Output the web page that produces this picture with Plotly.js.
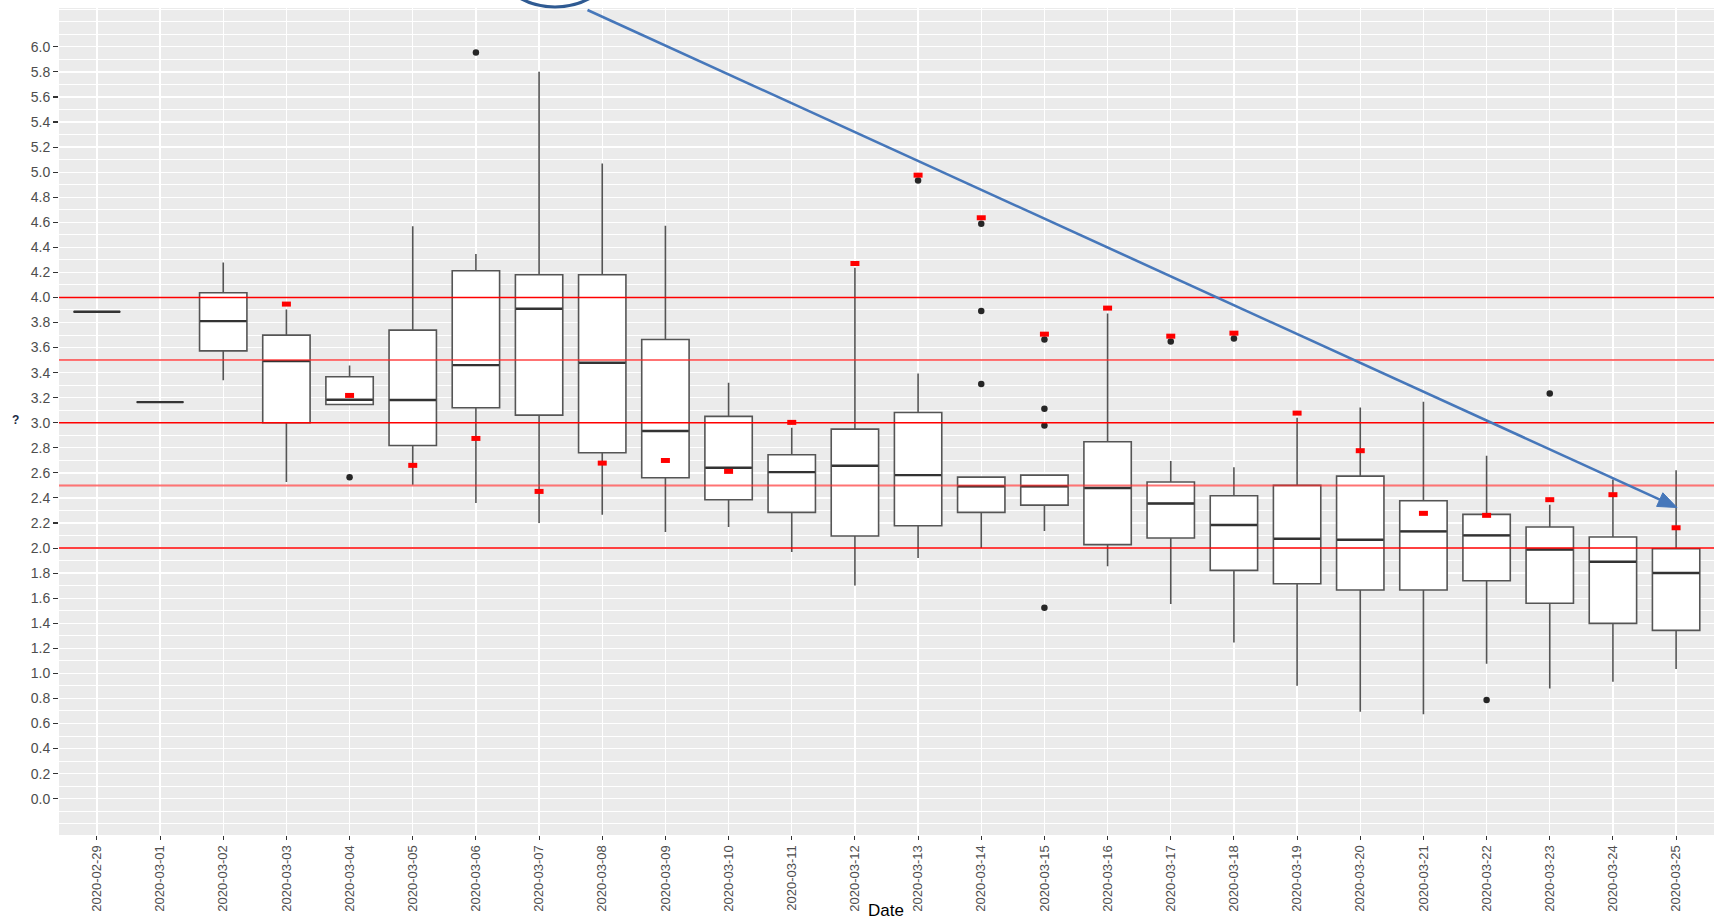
<!DOCTYPE html>
<html>
<head>
<meta charset="utf-8">
<script src="https://cdn.plot.ly/plotly-3.0.1.min.js"></script>
<style>
  html, body { margin: 0; padding: 0; background: #ffffff; }
  #chart { width: 1719px; height: 923px; }
</style>
</head>
<body>
<div id="chart"></div>
<script>
// ---- data ----
const dates = ['2020-02-29','2020-03-01','2020-03-02','2020-03-03','2020-03-04','2020-03-05',
  '2020-03-06','2020-03-07','2020-03-08','2020-03-09','2020-03-10','2020-03-11','2020-03-12',
  '2020-03-13','2020-03-14','2020-03-15','2020-03-16','2020-03-17','2020-03-18','2020-03-19',
  '2020-03-20','2020-03-21','2020-03-22','2020-03-23','2020-03-24','2020-03-25'];

const lowerWhisker = [3.886, 3.165, 3.340, 2.527, 3.146, 2.505, 2.359, 2.199, 2.266, 2.128, 2.168, 1.968, 1.702,
  1.920, 2.000, 2.136, 1.854, 1.553, 1.247, 0.902, 0.694, 0.673, 1.077, 0.880, 0.934, 1.035];
const q1Values = [3.886, 3.165, 3.574, 3.000, 3.146, 2.819, 3.120, 3.061, 2.761, 2.561, 2.386, 2.285, 2.096,
  2.178, 2.285, 2.343, 2.027, 2.080, 1.822, 1.715, 1.665, 1.665, 1.739, 1.559, 1.399, 1.343];
const medianValues = [3.886, 3.165, 3.811, 3.492, 3.184, 3.181, 3.460, 3.910, 3.479, 2.934, 2.641, 2.606, 2.657,
  2.582, 2.492, 2.492, 2.479, 2.356, 2.184, 2.074, 2.066, 2.133, 2.101, 1.989, 1.891, 1.801];
const q3Values = [3.886, 3.165, 4.037, 3.699, 3.367, 3.739, 4.213, 4.181, 4.181, 3.665, 3.051, 2.745, 2.949,
  3.082, 2.566, 2.582, 2.848, 2.527, 2.418, 2.500, 2.574, 2.378, 2.269, 2.168, 2.088, 1.995];
const upperWhisker = [3.886, 3.165, 4.279, 3.904, 3.457, 4.569, 4.346, 5.801, 5.069, 4.572, 3.319, 2.960, 4.237,
  3.394, 2.566, 2.582, 3.872, 2.694, 2.644, 3.040, 3.122, 3.168, 2.737, 2.346, 2.548, 2.620];

const meanValues = [null, null, null, 3.947, 3.218, 2.660, 2.875, 2.452, 2.678, 2.699, 2.612, 3.003, 4.271,
  4.976, 4.636, 3.707, 3.915, 3.691, 3.715, 3.077, 2.777, 2.277, 2.261, 2.386, 2.426, 2.162];

const outlierDates = ['2020-03-04','2020-03-06','2020-03-13','2020-03-14','2020-03-14','2020-03-14',
  '2020-03-15','2020-03-15','2020-03-15','2020-03-15','2020-03-17','2020-03-18','2020-03-22','2020-03-23'];
const outlierValues = [2.566, 5.955, 4.934, 4.588, 3.891, 3.309, 3.665, 3.112, 2.979, 1.524, 3.649, 3.673, 0.787, 3.234];

const referenceLines = [2.0, 2.5, 3.0, 3.5, 4.0];

const yTickLabels = ['0.0','0.2','0.4','0.6','0.8','1.0','1.2','1.4','1.6','1.8','2.0','2.2','2.4','2.6',
  '2.8','3.0','3.2','3.4','3.6','3.8','4.0','4.2','4.4','4.6','4.8','5.0','5.2','5.4','5.6','5.8','6.0'];
const xTitle = 'Date';

// ---- layout geometry (pixels) ----
const W = 1719, H = 923;
const M = { l: 59, r: 5, t: 8, b: 88 };
const plotW = W - M.l - M.r, plotH = H - M.t - M.b;
const px = x => (x - M.l) / plotW;       // pixel -> paper x
const py = y => (H - M.b - y) / plotH;   // pixel -> paper y

const FONT = '"Liberation Sans", Arial, Helvetica, sans-serif';
// plotly's line-ew symbol is 1.4 x its size long
const boxPx = 0.75 * plotW / 26.2;

const traces = [
  {
    type: 'box',
    x: dates,
    q1: q1Values,
    median: medianValues,
    q3: q3Values,
    lowerfence: lowerWhisker,
    upperfence: upperWhisker,
    boxpoints: false,
    width: 0.75,
    whiskerwidth: 0,
    fillcolor: '#ffffff',
    line: { color: '#555555', width: 1.6 },
    hoverinfo: 'skip',
    showlegend: false
  },
  {
    type: 'scatter',
    mode: 'markers',
    x: dates,
    y: medianValues,
    marker: { symbol: 'line-ew-open', size: (boxPx - 1) / 1.4, color: '#333333', line: { width: 2.4, color: '#333333' } },
    hoverinfo: 'skip',
    showlegend: false
  },
  {
    type: 'scatter',
    mode: 'markers',
    x: outlierDates,
    y: outlierValues,
    marker: { symbol: 'circle', size: 6.5, color: '#262626', line: { width: 0 } },
    hoverinfo: 'skip',
    showlegend: false
  },
  {
    type: 'scatter',
    mode: 'markers',
    x: dates,
    y: meanValues,
    marker: { symbol: 'line-ew-open', size: 9 / 1.4, color: '#ff0000', line: { width: 5, color: '#ff0000' } },
    hoverinfo: 'skip',
    showlegend: false
  }
];

const shapes = referenceLines.map(v => {
  const half = Math.abs(v - Math.round(v)) > 1e-9;
  return {
    type: 'line', xref: 'paper', yref: 'y', x0: 0, x1: 1, y0: v, y1: v, layer: 'above',
    line: half ? { color: 'rgba(255,40,40,0.65)', width: 2 } : { color: '#ff0000', width: 1.4 }
  };
});

// blue trend arrow (annotation drawing)
const aStart = [587.5, 10], aTip = [1677, 507.5];
const dxA = aTip[0] - aStart[0], dyA = aTip[1] - aStart[1];
const lenA = Math.hypot(dxA, dyA), ux = dxA / lenA, uy = dyA / lenA;
const headL = 19, headW = 7.5;
const base = [aTip[0] - ux * headL, aTip[1] - uy * headL];
const c1 = [base[0] - uy * headW, base[1] + ux * headW];
const c2 = [base[0] + uy * headW, base[1] - ux * headW];
shapes.push({
  type: 'line', xref: 'paper', yref: 'paper', layer: 'above',
  x0: px(aStart[0]), y0: py(aStart[1]), x1: px(base[0] + ux * 2), y1: py(base[1] + uy * 2),
  line: { color: '#4677BA', width: 2.6 }
});
shapes.push({
  type: 'path', xref: 'paper', yref: 'paper', layer: 'above',
  path: `M ${px(aTip[0])} ${py(aTip[1])} L ${px(c1[0])} ${py(c1[1])} L ${px(c2[0])} ${py(c2[1])} Z`,
  fillcolor: '#4677BA', line: { color: '#4677BA', width: 1 }
});
// blue circle partially above the top edge
const cc = [555, -65], cr = 72;
shapes.push({
  type: 'circle', xref: 'paper', yref: 'paper', layer: 'above',
  x0: px(cc[0] - cr), x1: px(cc[0] + cr), y0: py(cc[1] + cr), y1: py(cc[1] - cr),
  line: { color: '#2F5A92', width: 3.2 }, fillcolor: 'rgba(0,0,0,0)'
});

const layout = {
  width: W, height: H,
  margin: M,
  paper_bgcolor: '#ffffff',
  plot_bgcolor: '#EBEBEB',
  font: { family: FONT, color: '#4D4D4D' },
  showlegend: false,
  xaxis: {
    type: 'category',
    range: [-0.6, 25.6],
    fixedrange: true,
    automargin: false,
    showgrid: true, gridcolor: '#ffffff', gridwidth: 1.3,
    zeroline: false, showline: false,
    ticks: 'outside', ticklen: 4, tickwidth: 1.1, tickcolor: '#333333',
    tickangle: -90,
    tickfont: { family: FONT, size: 13, color: '#4D4D4D' }
  },
  yaxis: {
    range: [-0.29, 6.31],
    fixedrange: true,
    automargin: false,
    tickmode: 'array',
    tickvals: yTickLabels.map(Number),
    ticktext: yTickLabels,
    showgrid: true, gridcolor: '#ffffff', gridwidth: 1.3,
    minor: { tickmode: 'linear', tick0: 0, dtick: 0.1, showgrid: true, gridcolor: '#ffffff', gridwidth: 1.0, ticks: '' },
    zeroline: false, showline: false,
    ticks: 'outside', ticklen: 5, tickwidth: 1.1, tickcolor: '#333333',
    tickfont: { family: FONT, size: 14, color: '#4D4D4D' }
  },
  shapes: shapes,
  annotations: [
    {
      text: xTitle, xref: 'paper', yref: 'paper', x: px(886), y: py(922),
      xanchor: 'center', yanchor: 'bottom', showarrow: false,
      font: { family: FONT, size: 17, color: '#000000' }
    },
    {
      text: '<b>?</b>', xref: 'paper', yref: 'paper', x: px(15), y: py(420),
      xanchor: 'center', yanchor: 'middle', showarrow: false,
      font: { family: FONT, size: 12, color: '#1a2a44' }
    }
  ]
};

Plotly.newPlot('chart', traces, layout, { displayModeBar: false, staticPlot: true });
</script>
</body>
</html>
